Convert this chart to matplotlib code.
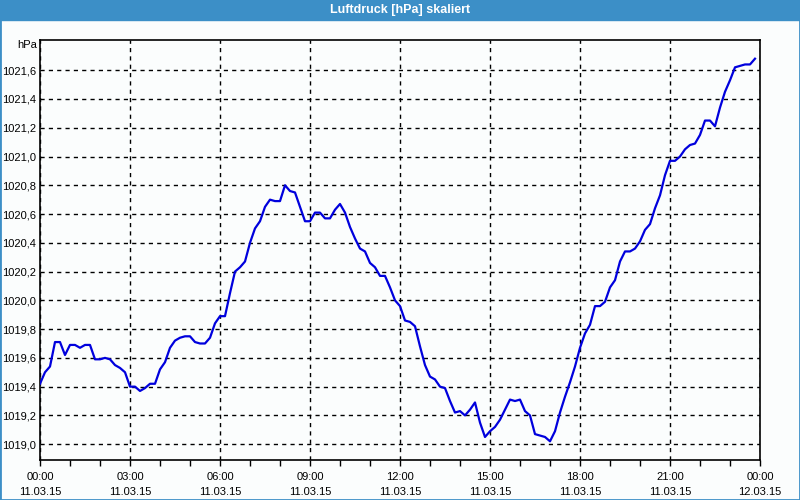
import numpy as np
import pandas as pd
import matplotlib
matplotlib.use("Agg")
import matplotlib.pyplot as plt
import matplotlib.dates as mdates

plt.rcParams["font.family"] = ["Liberation Sans", "DejaVu Sans"]

title = "Luftdruck [hPa] skaliert"
unit = "hPa"
start = "2015-03-11 00:00"
end = "2015-03-12 00:00"

# pressure in hPa, one reading every 10 minutes from 00:00
pressure = [
    1019.42, 1019.50, 1019.54, 1019.71, 1019.71, 1019.62, 1019.69, 1019.69,
    1019.67, 1019.69, 1019.69, 1019.59, 1019.59, 1019.60, 1019.59, 1019.55,
    1019.53, 1019.50, 1019.40, 1019.40, 1019.37, 1019.39, 1019.42, 1019.42,
    1019.52, 1019.57, 1019.67, 1019.72, 1019.74, 1019.75, 1019.75, 1019.71,
    1019.70, 1019.70, 1019.74, 1019.84, 1019.89, 1019.89, 1020.05, 1020.20,
    1020.23, 1020.27, 1020.40, 1020.50, 1020.55, 1020.65, 1020.70, 1020.69,
    1020.69, 1020.80, 1020.76, 1020.75, 1020.65, 1020.55, 1020.55, 1020.61,
    1020.61, 1020.57, 1020.57, 1020.63, 1020.67, 1020.61, 1020.51, 1020.43,
    1020.36, 1020.34, 1020.26, 1020.23, 1020.17, 1020.17, 1020.09, 1020.00,
    1019.96, 1019.86, 1019.85, 1019.82, 1019.68, 1019.55, 1019.47, 1019.45,
    1019.40, 1019.39, 1019.30, 1019.22, 1019.23, 1019.20, 1019.24, 1019.29,
    1019.15, 1019.05, 1019.09, 1019.12, 1019.17, 1019.24, 1019.31, 1019.30,
    1019.31, 1019.23, 1019.20, 1019.07, 1019.06, 1019.05, 1019.02, 1019.09,
    1019.22, 1019.33, 1019.43, 1019.54, 1019.67, 1019.77, 1019.83, 1019.96,
    1019.96, 1019.99, 1020.09, 1020.14, 1020.27, 1020.34, 1020.34, 1020.36,
    1020.41, 1020.49, 1020.53, 1020.64, 1020.73, 1020.87, 1020.97, 1020.97,
    1021.00, 1021.05, 1021.08, 1021.09, 1021.15, 1021.25, 1021.25, 1021.21,
    1021.34, 1021.45, 1021.53, 1021.62, 1021.63, 1021.64, 1021.64, 1021.68,
]
times = pd.date_range(start, periods=len(pressure), freq="10min")

bg = "#fbfdfd"
bar = "#3c8fc7"

fig = plt.figure(figsize=(8, 5), dpi=100, facecolor=bg)
ax = fig.add_axes([0.05, 0.08, 0.9, 0.84])
ax.set_facecolor(bg)

ax.plot(times, pressure, color="#0000dd", lw=1.6, zorder=3)

ax.set_xlim(pd.Timestamp(start), pd.Timestamp(end))
ax.set_ylim(1018.89, 1021.81)
ax.set_yticks(np.arange(1019.0, 1021.7, 0.2))
ax.yaxis.set_major_formatter(plt.FuncFormatter(lambda v, p: f"{v:.1f}".replace(".", ",")))

ax.xaxis.set_major_locator(mdates.HourLocator(byhour=range(0, 24, 3)))
ax.xaxis.set_minor_locator(mdates.HourLocator())
ax.xaxis.set_major_formatter(mdates.DateFormatter("%H:%M\n%d.%m.%y"))

ax.grid(True, color="black", linestyle=(0, (3, 3)), lw=1)
ax.tick_params(axis="x", which="both", length=4, width=1, direction="out", pad=5, labelsize=8)
ax.tick_params(axis="y", length=0, pad=3, labelsize=8)
for lab in ax.get_xticklabels():
    lab.set_linespacing(1.6)
for s in ax.spines.values():
    s.set_color("black")
    s.set_linewidth(1.2)

fig.text(37 / 800, 1 - 45 / 500, unit, ha="right", va="center", fontsize=8)

# title bar and frame
fig.patches.append(plt.Rectangle((0, 1 - 20 / 500), 1, 20 / 500, transform=fig.transFigure,
                                 color=bar, zorder=0))
fig.patches.append(plt.Rectangle((0, 0), 1, 1, transform=fig.transFigure, fill=False,
                                 edgecolor=bar, lw=2, zorder=0))
fig.text(0.5, 1 - 10 / 500, title, ha="center", va="center", color="white",
         fontsize=9, fontweight="bold")

fig.savefig("out.png", dpi=100, facecolor=bg)
